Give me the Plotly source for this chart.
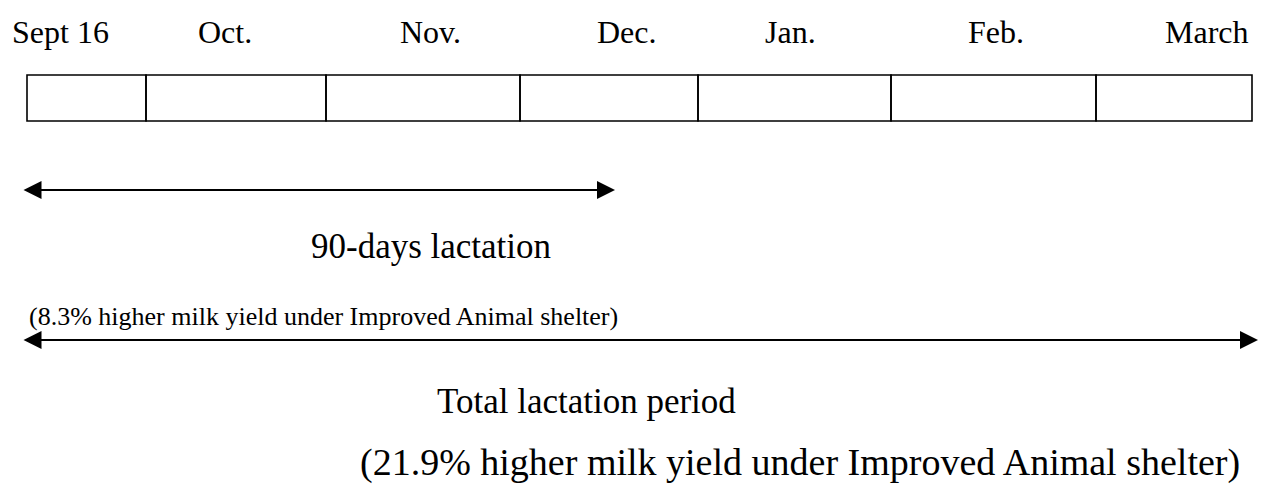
import plotly.graph_objects as go

# Timeline data (in pixel-like axis units of the diagram)
month_labels = ["Sept 16", "Oct.", "Nov.", "Dec.", "Jan.", "Feb.", "March"]
month_label_x = [60, 225, 430, 627, 790, 996, 1207]
cell_bounds = [27, 146, 326, 520, 698, 891, 1096, 1252]

# Arrow spans (start, end) and their captions
lact90_span = [22, 615]
total_span = [22, 1258]
lact90_label = "90-days lactation"
lact90_note = "(8.3% higher milk yield under Improved Animal shelter)"
total_label = "Total lactation period"
total_note = "(21.9% higher milk yield under Improved Animal shelter)"

W, H = 1264, 489
FONT = "Liberation Serif"

fig = go.Figure()
fig.add_trace(go.Scatter(x=[0, W], y=[0, H], mode="markers",
                         marker=dict(opacity=0), hoverinfo="skip", showlegend=False))

# month cells
for i in range(len(cell_bounds) - 1):
    fig.add_shape(type="rect", xref="x", yref="y",
                  x0=cell_bounds[i], x1=cell_bounds[i + 1], y0=75, y1=121,
                  line=dict(color="black", width=1.6), fillcolor="rgba(0,0,0,0)")

# month labels
for lab, x in zip(month_labels, month_label_x):
    fig.add_annotation(x=x, y=32, xref="x", yref="y", text=lab, showarrow=False,
                       xanchor="center", yanchor="middle",
                       font=dict(family=FONT, size=32, color="black"))

def add_arrow(span, y):
    fig.add_annotation(x=span[1], y=y, ax=span[0], ay=y, xref="x", yref="y",
                       axref="x", ayref="y", text="", showarrow=True,
                       arrowside="end+start", arrowhead=2, arrowsize=2.0,
                       arrowwidth=1.8, arrowcolor="black", standoff=0, startstandoff=0)

add_arrow(lact90_span, 190)
add_arrow(total_span, 340)

fig.add_annotation(x=431, y=246, xref="x", yref="y", text=lact90_label, showarrow=False,
                   xanchor="center", yanchor="middle",
                   font=dict(family=FONT, size=35, color="black"))
fig.add_annotation(x=27, y=316, xref="x", yref="y", text=lact90_note, showarrow=False,
                   xanchor="left", yanchor="middle",
                   font=dict(family=FONT, size=26, color="black"))
fig.add_annotation(x=586, y=401, xref="x", yref="y", text=total_label, showarrow=False,
                   xanchor="center", yanchor="middle",
                   font=dict(family=FONT, size=35, color="black"))
fig.add_annotation(x=800, y=462, xref="x", yref="y", text=total_note, showarrow=False,
                   xanchor="center", yanchor="middle",
                   font=dict(family=FONT, size=38, color="black"))

fig.update_xaxes(range=[0, W], visible=False, fixedrange=True)
fig.update_yaxes(range=[H, 0], visible=False, fixedrange=True)
fig.update_layout(width=W, height=H, margin=dict(l=0, r=0, t=0, b=0),
                  paper_bgcolor="white", plot_bgcolor="white", showlegend=False)

fig.write_html("out.html", config={"displayModeBar": False},
               post_script="document.body.style.margin='0';document.body.style.overflow='hidden';")
